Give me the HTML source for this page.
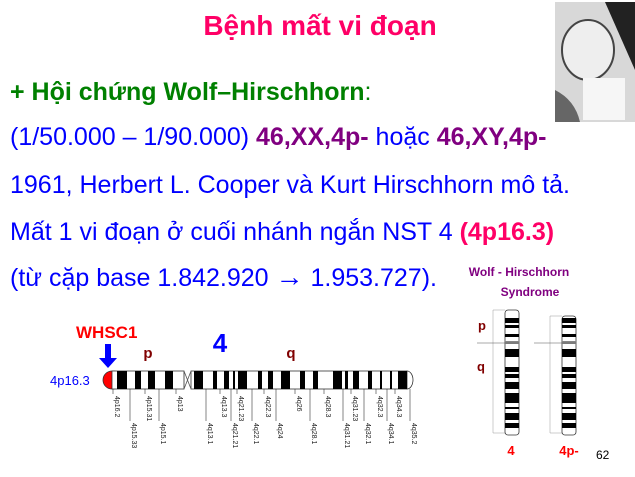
<!DOCTYPE html>
<html><head><meta charset="utf-8"><style>
body{margin:0;width:635px;height:477px;overflow:hidden;background:#fff;font-family:"Liberation Sans",sans-serif}
</style></head><body>
<svg width="635" height="477" xmlns="http://www.w3.org/2000/svg" style="font-family:'Liberation Sans',sans-serif;display:block">
<text x="320" y="35" text-anchor="middle" font-size="28" font-weight="bold" fill="#ff0066">Bệnh mất vi đoạn</text>
<g>
<rect x="555" y="2" width="80" height="120" fill="#d8d8d8"/>
<ellipse cx="588" cy="50" rx="26" ry="30" fill="#eeeeee" stroke="#444" stroke-width="2"/>
<path d="M605 2 L635 2 L635 70 Z" fill="#222"/>
<rect x="583" y="78" width="42" height="42" fill="#f6f6f6"/>
<path d="M555 90 Q575 100 580 122 L555 122 Z" fill="#666"/>
</g>
<g font-size="25">
<text x="10" y="100" font-size="25" font-weight="bold" fill="#008000">+ Hội chứng Wolf–Hirschhorn<tspan font-weight="normal">:</tspan></text>
<text x="10" y="145" fill="#0000ff">(1/50.000 – 1/90.000)  <tspan font-weight="bold" fill="#800080">46,XX,4p-</tspan> hoặc <tspan font-weight="bold" fill="#800080">46,XY,4p-</tspan></text>
<text x="10" y="193" fill="#0000ff">1961, Herbert L. Cooper và Kurt Hirschhorn mô tả.</text>
<text x="10" y="240" fill="#0000ff">Mất 1 vi đoạn ở cuối nhánh ngắn NST 4   <tspan font-weight="bold" fill="#ff0066">(4p16.3)</tspan></text>
<text x="10" y="286" fill="#0000ff">(từ cặp base 1.842.920 <tspan font-size="28">→</tspan> 1.953.727).</text>
</g>
<g id="chr">
<text x="76" y="338" font-size="17" font-weight="bold" fill="#ff0000">WHSC1</text>
<path d="M105 344 L111 344 L111 358 L117 358 L108 368 L99 358 L105 358 Z" fill="#0000ff"/>
<text x="148" y="358" font-size="15" font-weight="bold" fill="#800000" text-anchor="middle">p</text>
<text x="220" y="352" font-size="26" font-weight="bold" fill="#0000ff" text-anchor="middle">4</text>
<text x="291" y="358" font-size="15" font-weight="bold" fill="#800000" text-anchor="middle">q</text>
<text x="50" y="385" font-size="13" fill="#0000ff">4p16.3</text>
</g>
<g id="ideo">
<text x="519" y="276" font-size="12" font-weight="bold" fill="#800080" text-anchor="middle">Wolf - Hirschhorn</text>
<text x="530" y="296" font-size="12" font-weight="bold" fill="#800080" text-anchor="middle">Syndrome</text>
<text x="478" y="330" font-size="13" font-weight="bold" fill="#800000">p</text>
<text x="477" y="371" font-size="13" font-weight="bold" fill="#800000">q</text>
<text x="511" y="455" font-size="13" font-weight="bold" fill="#ff0000" text-anchor="middle">4</text>
<text x="569" y="455" font-size="13" font-weight="bold" fill="#ff0000" text-anchor="middle">4p-</text>
<text x="596" y="459" font-size="12" fill="#000">62</text>
</g>
</svg>
<script>
const NS='http://www.w3.org/2000/svg';
const pBands=[[117,127],[135,141],[148,155],[165,173]];
const qBands=[[194,203],[213,217],[224,229],[233,235],[238,247],[258,262],[268,273],[281,290],[300,305],[313,318],[333,342],[345,348],[353,359],[368,372],[380,382],[390,392],[398,407]];
const labelsTop=[['4p16.2',113],['4p15.31',145],['4p13',176],['4q13.3',220],['4q21.23',237],['4q22.3',264],['4q26',295],['4q28.3',324],['4q31.23',351],['4q32.3',376],['4q34.3',395]];
const labelsBot=[['4p15.33',130],['4p15.1',159],['4q13.1',206],['4q21.21',231],['4q22.1',252],['4q24',276],['4q28.1',310],['4q31.21',343],['4q32.1',364],['4q34.1',387],['4q35.2',410]];
const ideoBands=[[318,323],[325,328],[334,337],[349,357],[367,372],[374,378],[382,389],[393,403],[407,409],[413,420],[423,428]];
function mk(t,a,p){const e=document.createElementNS(NS,t);for(const k in a)e.setAttribute(k,a[k]);p.appendChild(e);return e;}
const g=document.getElementById('chr');
const y0=371,h=18;
mk('path',{d:'M115 371 L115 389 L112 389 A9 9 0 0 1 112 371 Z',fill:'#ff0000',stroke:'#333','stroke-width':'0.8'},g);
mk('rect',{x:112,y:y0,width:72,height:h,fill:'#fff',stroke:'#333','stroke-width':'0.8'},g);
mk('rect',{x:191,y:y0,width:216,height:h,fill:'#fff',stroke:'#333','stroke-width':'0.8'},g);
mk('path',{d:'M407 371 A6 9 0 0 1 407 389 Z',fill:'#fff',stroke:'#333','stroke-width':'0.8'},g);
mk('path',{d:'M184 371 L191 389 M184 389 L191 371 M184 371 L184 389 M191 371 L191 389',stroke:'#555','stroke-width':'0.8',fill:'none'},g);
pBands.concat(qBands).forEach(b=>{const r=mk('rect',{x:b[0],y:y0,width:b[1]-b[0],height:h,fill:'#000'},g);});
function lab(arr,len){arr.forEach(l=>{mk('line',{x1:l[1],y1:389,x2:l[1],y2:389+len,stroke:'#333','stroke-width':'0.6'},g);const t=mk('text',{x:0,y:0,'font-size':'7',fill:'#222',transform:`translate(${l[1]+2},${391+len}) rotate(90)`},g);t.textContent=l[0];});}
lab(labelsTop,5);lab(labelsBot,32);
const ig=document.getElementById('ideo');
function ideogram(x,top){
mk('line',{x1:x-12,y1:top,x2:x-12,y2:433,stroke:'#999','stroke-width':'0.5'},ig);
mk('line',{x1:x-12,y1:top,x2:x,y2:top,stroke:'#999','stroke-width':'0.5'},ig);
mk('line',{x1:x-12,y1:433,x2:x,y2:433,stroke:'#999','stroke-width':'0.5'},ig);
mk('rect',{x:x,y:top,width:14,height:435-top,rx:3,fill:'#fff',stroke:'#333','stroke-width':'0.8'},ig);
ideoBands.forEach(b=>{if(b[0]>=top+1){const r=mk('rect',{x:x,y:b[0],width:14,height:b[1]-b[0],fill:'#000'},ig);}});
mk('rect',{x:x,y:341,width:14,height:3,fill:'#888'},ig);
mk('line',{x1:x-28,y1:343,x2:x+14,y2:343,stroke:'#555','stroke-width':'0.6'},ig);}
ideogram(505,310);ideogram(562,316);
</script>
</body></html>
